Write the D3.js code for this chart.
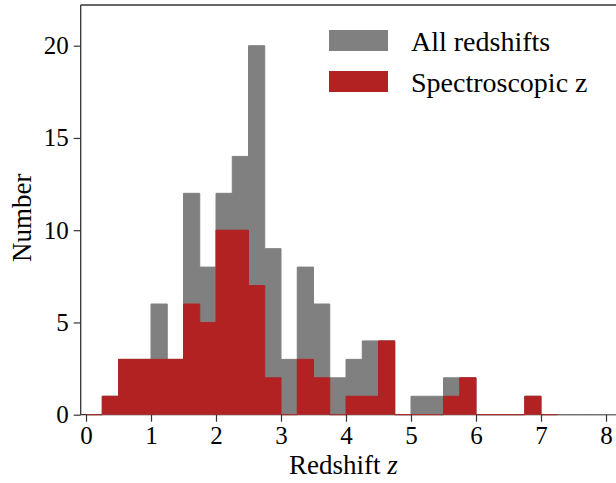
<!DOCTYPE html>
<html>
<head>
<meta charset="utf-8">
<script src="https://cdn.jsdelivr.net/npm/d3@7"></script>
<style>
  body { margin: 0; background: #fff; }
  text { font-family: "Liberation Serif", "Times New Roman", serif; fill: #000; }
</style>
</head>
<body>
<div id="chart"></div>
<script>
const width = 616;
const height = 483;

// bin edges (redshift), width 0.25
const allEdges = [0, 0.25, 0.5, 0.75, 1, 1.25, 1.5, 1.75, 2, 2.25, 2.5, 2.75, 3, 3.25, 3.5, 3.75,
  4, 4.25, 4.5, 4.75, 5, 5.25, 5.5, 5.75, 6, 6.25, 6.5, 6.75, 7, 7.25, 7.5, 7.75, 8, 8.25];
const specEdges = allEdges.slice(0, 30); // 0 .. 7.25

const allCounts = [0, 1, 3, 3, 6, 3, 12, 8, 12, 14, 20, 9, 3, 8, 6, 2, 3, 4, 4, 0, 1, 1, 2, 2,
  0, 0, 0, 1, 0, 0, 0, 0, 0];
const specCounts = [0, 1, 3, 3, 3, 3, 6, 5, 10, 10, 7, 2, 0, 3, 2, 0, 1, 1, 4, 0, 0, 0, 1, 2,
  0, 0, 0, 1, 0];

const xTicks = [0, 1, 2, 3, 4, 5, 6, 7, 8];
const yTicks = [0, 5, 10, 15, 20];
const legendLabels = ["All redshifts", "Spectroscopic z"];
const colors = ["#808080", "#b22222"];

const plotLeft = 80.7, plotTop = 5, plotBottom = 414.7;

const x = d3.scaleLinear()
  .domain([0, 8])
  .range([86, 606]);

const y = d3.scaleLinear()
  .domain([0, 20])
  .range([plotBottom, 45.7]);

const svg = d3.select('#chart')
  .append('svg')
  .attr('width', width)
  .attr('height', height);

function steps(edges, counts) {
  const pts = [[edges[0], 0]];
  counts.forEach((c, i) => {
    pts.push([edges[i], c]);
    pts.push([edges[i + 1], c]);
  });
  pts.push([edges[edges.length - 1], 0]);
  return pts;
}

const line = d3.line()
  .x(d => x(d[0]))
  .y(d => y(d[1]));

// spines
svg.append('line')
  .attr('x1', plotLeft).attr('x2', width + 5)
  .attr('y1', plotTop).attr('y2', plotTop)
  .attr('stroke', '#333').attr('stroke-width', 1.3);
svg.append('line')
  .attr('x1', plotLeft).attr('x2', width + 5)
  .attr('y1', plotBottom).attr('y2', plotBottom)
  .attr('stroke', '#333').attr('stroke-width', 1.3);

const hists = [[allEdges, allCounts], [specEdges, specCounts]];
hists.forEach((h, i) => {
  svg.append('path')
    .datum(steps(h[0], h[1]))
    .attr('d', line)
    .attr('fill', colors[i])
    .attr('stroke', colors[i])
    .attr('stroke-width', 1);
});

svg.append('line')
  .attr('x1', plotLeft).attr('x2', plotLeft)
  .attr('y1', plotTop).attr('y2', plotBottom)
  .attr('stroke', '#333').attr('stroke-width', 1.3);

// axes
const xAxis = svg.append('g')
  .attr('transform', `translate(0,${plotBottom})`)
  .call(d3.axisBottom(x).tickValues(xTicks).tickSize(7).tickPadding(5).tickFormat(d3.format('d')));
xAxis.select('.domain').remove();

const yAxis = svg.append('g')
  .attr('transform', `translate(${plotLeft},0)`)
  .call(d3.axisLeft(y).tickValues(yTicks).tickSize(7).tickPadding(5).tickFormat(d3.format('d')));
yAxis.select('.domain').remove();

svg.selectAll('.tick text')
  .style('font-family', '"Liberation Serif", serif')
  .style('font-size', '25px')
  .attr('fill', '#000');
svg.selectAll('.tick line').attr('stroke', '#333').attr('stroke-width', 1.2);

// axis labels
const xl = svg.append('text')
  .attr('x', (plotLeft + 606) / 2)
  .attr('y', 474)
  .attr('text-anchor', 'middle')
  .style('font-size', '27px')
  .text('Redshift ');
xl.append('tspan').style('font-style', 'italic').text('z');

svg.append('text')
  .attr('transform', `translate(31,${(plotTop + plotBottom) / 2 + 8}) rotate(-90)`)
  .attr('text-anchor', 'middle')
  .style('font-size', '27px')
  .text('Number');

// legend
const legend = svg.append('g')
  .selectAll('g')
  .data(legendLabels)
  .enter()
  .append('g')
  .attr('transform', (d, i) => `translate(329,${30 + i * 41})`);

legend.append('rect')
  .attr('width', 59)
  .attr('height', 21)
  .attr('fill', (d, i) => colors[i]);

legend.append('text')
  .attr('x', 82)
  .attr('y', 21)
  .style('font-size', '28px')
  .text(d => d);
</script>
</body>
</html>
